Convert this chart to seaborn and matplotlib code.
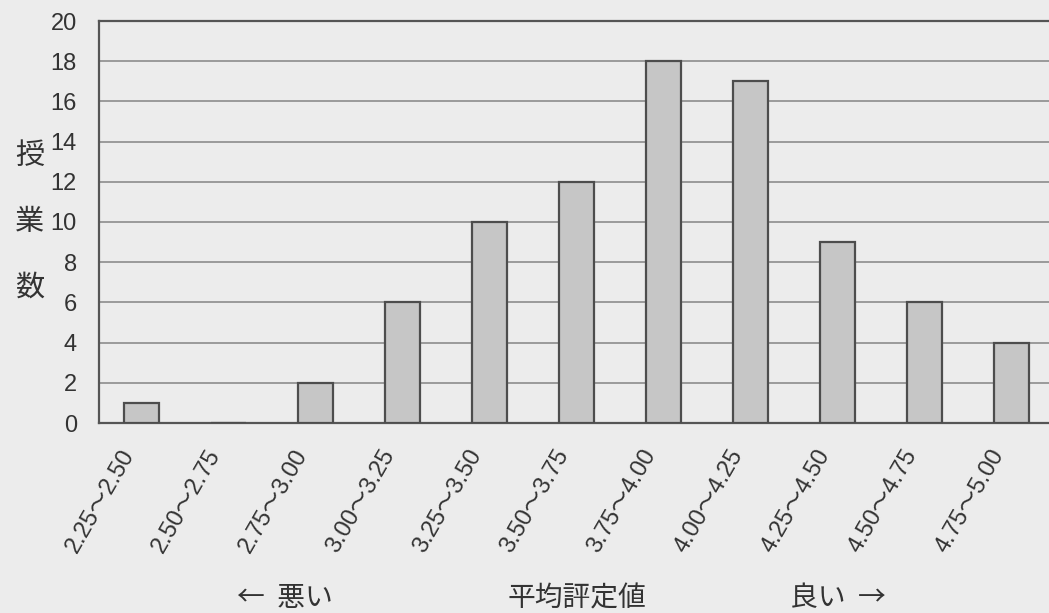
import matplotlib
matplotlib.use("Agg")
import matplotlib.pyplot as plt
import matplotlib.transforms as mtransforms
import seaborn as sns
import pandas as pd

bins = ["2.25〜2.50", "2.50〜2.75", "2.75〜3.00", "3.00〜3.25", "3.25〜3.50",
        "3.50〜3.75", "3.75〜4.00", "4.00〜4.25", "4.25〜4.50", "4.50〜4.75",
        "4.75〜5.00"]
counts = [1, 0, 2, 6, 10, 12, 18, 17, 9, 6, 4]
yticks = list(range(0, 21, 2))

df = pd.DataFrame({"range": bins, "count": counts})

sns.set_style("white")
plt.rcParams["font.family"] = ["Liberation Sans", "Noto Sans CJK JP", "DejaVu Sans"]

paper = "#ececec"
ink = "#333333"
jp = ["Noto Sans CJK JP", "DejaVu Sans"]

fig = plt.figure(figsize=(10.49, 6.13), dpi=100, facecolor=paper)
ax = fig.add_axes([99 / 1049, 190 / 613, 950 / 1049, 402 / 613])
ax.set_facecolor(paper)

sns.barplot(data=df, x="range", y="count", order=bins, width=0.4,
            color="#c6c6c6", saturation=1, edgecolor="#4d4d4d",
            linewidth=1.6, ax=ax, zorder=3)

ax.set_xlim(-0.49, 10.43)
ax.set_ylim(0, 20)
ax.set_yticks(yticks)
ax.yaxis.grid(True, color="#8c8c8c", linewidth=1.2, zorder=0)
ax.set_axisbelow(True)

for side in ["left", "bottom", "top"]:
    ax.spines[side].set_color("#555555")
    ax.spines[side].set_linewidth(1.6)
ax.spines["right"].set_visible(False)

ax.tick_params(axis="y", length=0, pad=16, labelsize=17, labelcolor=ink)
ax.tick_params(axis="x", length=0, pad=16, labelsize=17, labelcolor=ink)

# tilt the range labels and pull them a little left of each bar
shift = mtransforms.ScaledTranslation(-16 / 72, 0, fig.dpi_scale_trans)
for lab in ax.get_xticklabels():
    lab.set_rotation(60)
    lab.set_ha("right")
    lab.set_va("top")
    lab.set_rotation_mode("anchor")
    lab.set_transform(lab.get_transform() + shift)

ax.set_xlabel("")
ax.set_ylabel("授\n業\n数", rotation=0, fontsize=21, color=ink, family=jp,
              linespacing=2.55, va="center", ha="center")
ax.yaxis.set_label_coords(-0.073, 0.5)

fig.text(577 / 1049, 1 - 598 / 613, "平均評定値", fontsize=20, color=ink,
         family=jp, ha="center", va="center")
fig.text(285 / 1049, 1 - 598 / 613, "←  悪い", fontsize=20, color=ink,
         family=jp, ha="center", va="center")
fig.text(838 / 1049, 1 - 598 / 613, "良い  →", fontsize=20, color=ink,
         family=jp, ha="center", va="center")

fig.savefig("out.png", dpi=100, facecolor=paper)
